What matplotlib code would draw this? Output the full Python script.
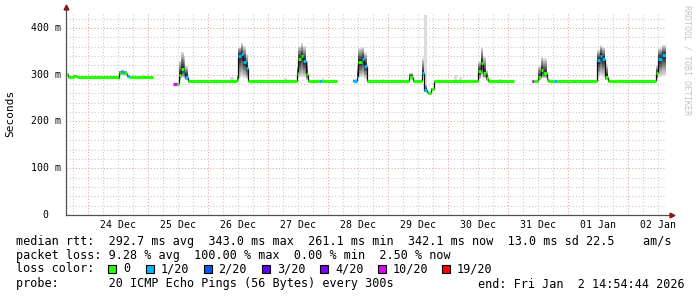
import numpy as np
import matplotlib
matplotlib.use("Agg")
import matplotlib.pyplot as plt
from matplotlib.patches import Rectangle
from matplotlib.transforms import blended_transform_factory

# ---------------- data (hours since 24 Dec 00:00, milliseconds) ----------------
nan = float("nan")
step_start_h = [-8.8, -8.2, -5.6, -4.4, 12.0, 12.4, 13.2, 14.2, 15.6, 16.4, 26.0,
                34.0, 35.6, 36.3, 37.3, 38.2, 38.9, 40.0,
                59.6, 60.0, 61.2, 62.0, 63.2, 64.0,
                83.5, 84.0, 85.2, 86.0, 87.2, 88.0, 92.5, 93.5, 99.6,
                106.1, 107.5, 108.1, 109.5, 110.4, 111.5,
                128.4, 129.9, 133.5, 134.4, 135.5, 136.1, 137.2, 138.4,
                156.1, 157.2, 158.1, 159.1, 160.0, 170.4,
                177.5, 178.4, 180.1, 181.1, 182.1, 183.5, 184.1, 186.5, 187.7,
                203.6, 204.8, 205.6, 206.8, 208.0,
                227.2, 228.0, 229.6]
median_ms = [301, 296, 298, 296, 292, 304, 306, 304, 297, 296, nan,
             280, 280, 300, 312, 305, 296, 286,
             290, 340, 344, 328, 315, 286,
             304, 333, 339, 329, 301, 286, 286, 286, nan,
             286, 296, 328, 333, 319, 286,
             296, 286, 303, 267, 264, 260, 269, 286,
             307, 326, 303, 292, 286, nan,
             286, 286, 294, 310, 303, 290, 286, 286, 286,
             331, 341, 334, 296, 286,
             303, 334, 342]
loss_level = [0, 0, 0, 0, 0, 0, 1, 0, 1, 0, 0,
              5, 0, 0, 0, 1, 1, 0,
              0, 1, 1, 1, 1, 0,
              0, 0, 0, 1, 0, 0, 1, 0, 0,
              1, 1, 0, 1, 1, 0,
              0, 0, 1, 1, 1, 0, 0, 0,
              0, 0, 0, 0, 0, 0,
              5, 0, 0, 0, 0, 0, 0, 1, 0,
              1, 1, 1, 0, 0,
              0, 1, 1]
smoke_lo_ms = [299, 295, 297, 295, 290, 298, 299, 298, 294, 295, nan,
               279, 279, 288, 292, 292, 288, 285,
               286, 292, 295, 293, 290, 285,
               288, 294, 296, 294, 288, 285, 285, 285, nan,
               285, 288, 294, 295, 291, 285,
               289, 285, 297, 262, 260, 258, 266, 285,
               290, 295, 292, 287, 285, nan,
               285, 285, 288, 292, 292, 286, 285, 285, 285,
               294, 298, 296, 288, 285,
               290, 296, 298]
smoke_hi_ms = [303, 297, 299, 297, 296, 308, 310, 308, 300, 297, nan,
               281, 282, 330, 349, 340, 318, 287,
               300, 360, 368, 362, 345, 287,
               318, 362, 368, 362, 330, 287, 287, 287, nan,
               290, 320, 358, 360, 348, 287,
               304, 287, 335, 280, 270, 264, 272, 287,
               330, 360, 340, 310, 287, nan,
               287, 287, 320, 339, 335, 305, 287, 287, 287,
               352, 364, 360, 322, 287,
               320, 358, 364]
data_end_h = 231.2

outlier_start_h = [21.5, 56.8, 78.4, 93.6, 117.6, 134.4, 146.4, 148.4, 164.4]
outlier_end_h = [22.3, 58.4, 79.6, 94.4, 118.4, 135.5, 147.6, 149.6, 165.6]
outlier_lo_ms = [296, 286, 286, 286, 286, 262, 286, 286, 286]
outlier_hi_ms = [302, 294, 293, 292, 291, 428, 300, 294, 291]

loss_labels = ["0", "1/20", "2/20", "3/20", "4/20", "10/20", "19/20"]
loss_colors = ["#26ff00", "#00b8ff", "#0059ff", "#5e00ff", "#7e00ff", "#dd00ff", "#ff0000"]

day_labels = ["24 Dec", "25 Dec", "26 Dec", "27 Dec", "28 Dec",
              "29 Dec", "30 Dec", "31 Dec", "01 Jan", "02 Jan"]
ytick_values = [0, 100, 200, 300, 400]

line_rtt = "median rtt:  292.7 ms avg  343.0 ms max  261.1 ms min  342.1 ms now  13.0 ms sd 22.5    am/s"
line_loss = "packet loss: 9.28 % avg  100.00 % max  0.00 % min  2.50 % now"
line_probe = "probe:       20 ICMP Echo Pings (56 Bytes) every 300s"
line_end = "end: Fri Jan  2 14:54:44 2026"

# ---------------- figure ----------------
W, H = 697, 297
MONO = "DejaVu Sans Mono"
fig = plt.figure(figsize=(W / 100, H / 100), dpi=100)
fig.patch.set_facecolor("white")
ax = fig.add_axes([66 / W, (H - 215) / H, 600 / W, 203 / H])
ax.set_xlim(-8.8, 231.2)
ax.set_ylim(0, 434)
for s in ax.spines.values():
    s.set_visible(False)
ax.set_xticks([])
ax.set_yticks([])

# grid
minor_col = "#c8c8c8"
major_col = "#e7a3a3"
for h in np.arange(-6, 231, 6):
    if h % 24 == 0:
        continue
    ax.axvline(h, color=minor_col, lw=0.75, ls=(0, (1, 2)), zorder=1)
for v in np.arange(20, 434, 20):
    if v % 100 == 0:
        continue
    ax.axhline(v, color=minor_col, lw=0.75, ls=(0, (1, 2)), zorder=1)
for h in np.arange(0, 231, 24):
    ax.axvline(h, color=major_col, lw=0.75, ls=(0, (1, 2)), zorder=1)
for v in ytick_values[1:]:
    ax.axhline(v, color=major_col, lw=0.75, ls=(0, (1, 2)), zorder=1)

# arrays
starts = np.array(step_start_h, float)
ends = np.append(starts[1:], data_end_h)
med = np.array(median_ms, float)
lo = np.array(smoke_lo_ms, float)
hi = np.array(smoke_hi_ms, float)
widths = ends - starts

# smoke (graded)
nb = 10
for k in range(nb):
    f = 1 - k / nb
    y1 = med - (med - lo) * f
    y2 = med + (hi - med) * f
    g = 0.87 - 0.75 * (k / (nb - 1))
    ax.bar(starts, y2 - y1, width=widths, bottom=y1, align="edge",
           color=(g, g, g), linewidth=0, zorder=2)

# outliers (light smoke)
os_ = np.array(outlier_start_h)
oe = np.array(outlier_end_h)
ol = np.array(outlier_lo_ms)
oh = np.array(outlier_hi_ms)
ax.bar(os_, oh - ol, width=oe - os_, bottom=ol, align="edge",
       color="#dcdcdc", linewidth=0, zorder=1.9)

# vertical connectors
for i in range(len(med) - 1):
    if np.isfinite(med[i]) and np.isfinite(med[i + 1]) and med[i] != med[i + 1]:
        ax.vlines(ends[i], min(med[i], med[i + 1]), max(med[i], med[i + 1]),
                  color="#101010", lw=0.9, zorder=3)

# median coloured by loss
cols = [loss_colors[l] for l in loss_level]
ax.hlines(med, starts, ends, colors=cols, lw=2.3, zorder=4, capstyle="butt")

# axes lines + arrows
ax.plot([0, 0], [0, 1.02], transform=ax.transAxes, color="#505050", lw=0.9,
        clip_on=False, zorder=5)
ax.plot([0, 1.005], [0, 0], transform=ax.transAxes, color="#505050", lw=0.9,
        clip_on=False, zorder=5)
ax.plot([0], [1.025], transform=ax.transAxes, marker="^", color="#8b1a1a",
        ms=3.5, clip_on=False, zorder=6)
ax.plot([1.01], [0], transform=ax.transAxes, marker=">", color="#8b1a1a",
        ms=3.5, clip_on=False, zorder=6)

# y tick labels
ty = blended_transform_factory(fig.transFigure, ax.transData)
for v in ytick_values:
    lab = "{:>3d} {}".format(v, "m" if v else " ")
    ax.text(30.5 / W, v, lab, transform=ty, ha="left", va="center",
            fontsize=7.1, family=MONO, color="black")

# x tick labels at noon
tx = blended_transform_factory(ax.transData, fig.transFigure)
for i, lab in enumerate(day_labels):
    ax.text(12 + 24 * i, 1 - 224.5 / H, lab, transform=tx, ha="center",
            va="center", fontsize=7.1, family=MONO, color="black")

# y axis title
fig.text(10.5 / W, 1 - 113.5 / H, "Seconds", rotation=90, ha="center",
         va="center", fontsize=8, family=MONO)
# watermark
fig.text(686.5 / W, 1 - 60 / H, "RRDTOOL / TOBI OETIKER", rotation=270,
         ha="center", va="center", fontsize=6, family=MONO, color="#c4c4c4")

# legend
fs = 8.5
fig.text(16 / W, 1 - 241 / H, line_rtt, ha="left", va="center", fontsize=fs, family=MONO)
fig.text(16 / W, 1 - 256 / H, line_loss, ha="left", va="center", fontsize=fs, family=MONO)
fig.text(16 / W, 1 - 269 / H, "loss color:", ha="left", va="center", fontsize=fs, family=MONO)
box_x = [108, 145.5, 203.5, 262, 320, 377.5, 442]
for bx, c, lab in zip(box_x, loss_colors, loss_labels):
    fig.add_artist(Rectangle((bx / W, 1 - 272.5 / H), 8 / W, 8 / H,
                             transform=fig.transFigure, facecolor=c,
                             edgecolor="black", lw=0.8))
    fig.text((bx + 15) / W, 1 - 269 / H, lab, ha="left", va="center",
             fontsize=fs, family=MONO)
fig.text(16 / W, 1 - 284 / H, line_probe, ha="left", va="center", fontsize=fs, family=MONO)
fig.text(478 / W, 1 - 284 / H, line_end, ha="left", va="center", fontsize=fs, family=MONO)

fig.savefig("out.png", dpi=100, facecolor="white")
